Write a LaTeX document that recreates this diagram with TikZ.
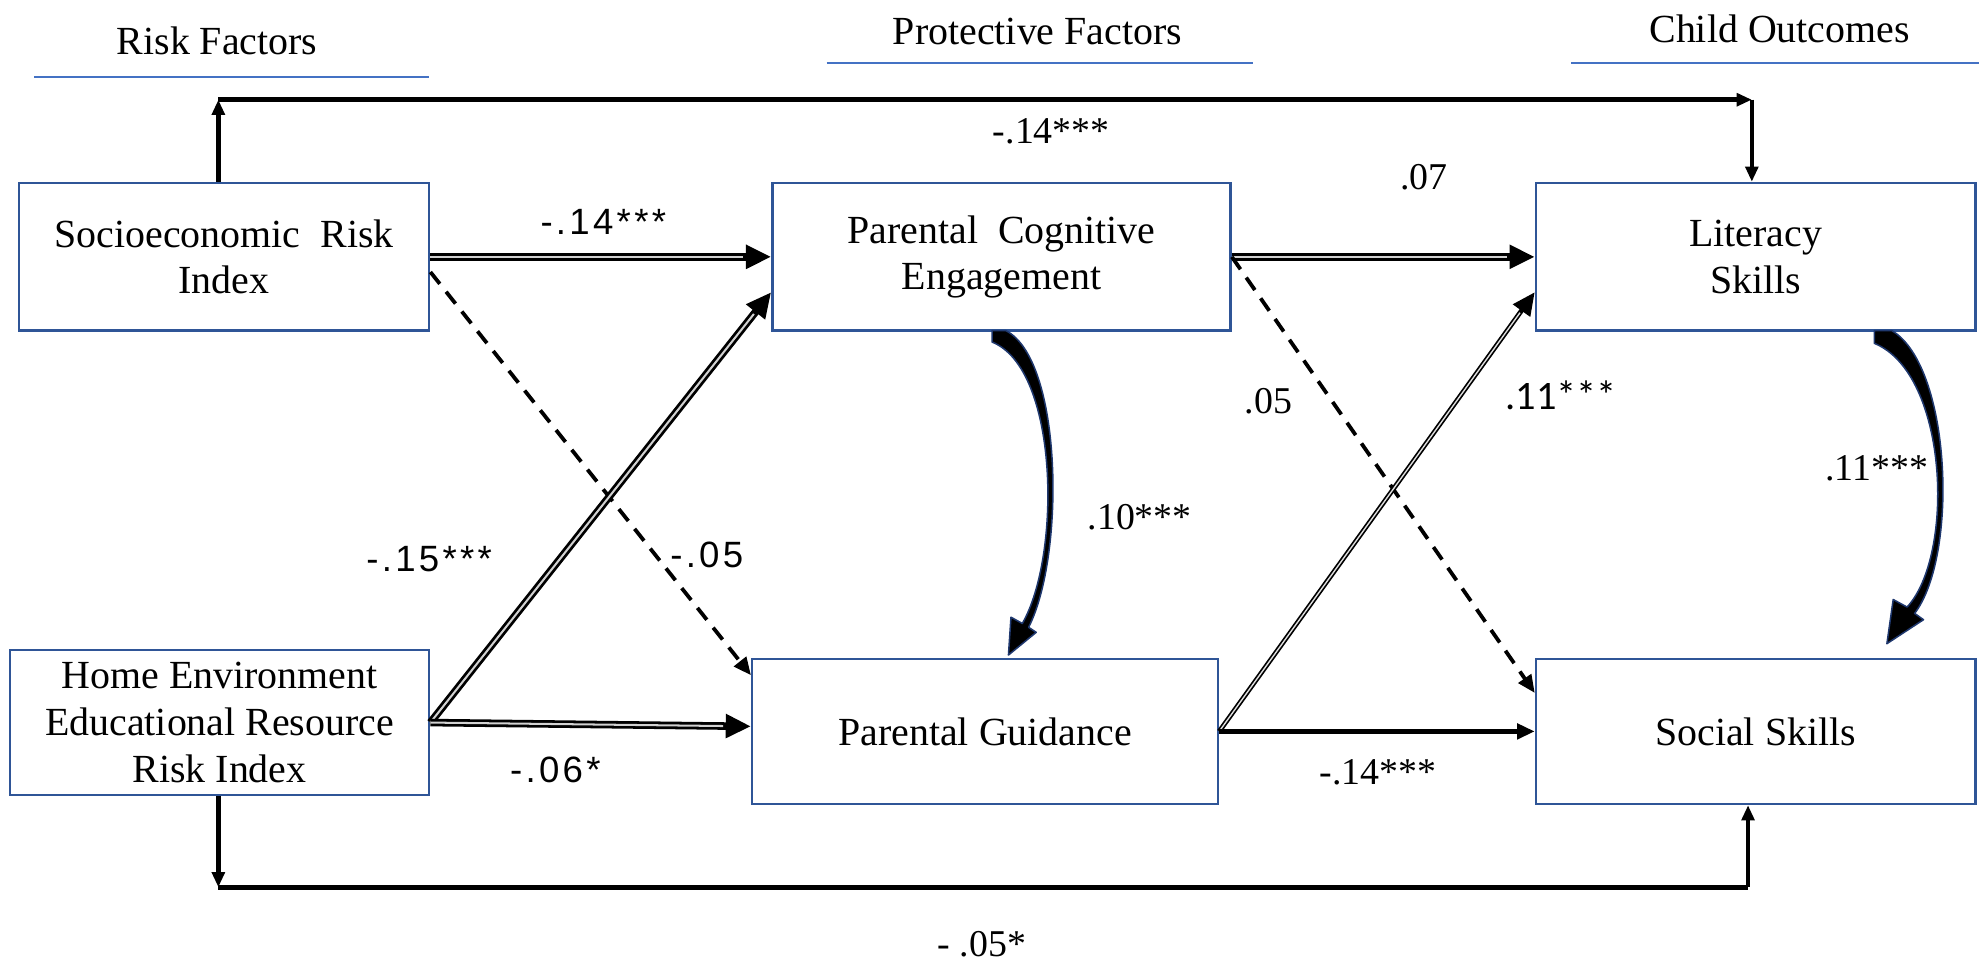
\documentclass[tikz,border=0pt]{standalone}
\usepackage{fontspec}
\setmainfont{Liberation Serif}
\newfontfamily\arialf[LetterSpace=9]{Liberation Sans}
\newfontfamily\calf{Carlito}
\usetikzlibrary{arrows.meta,calc}
\definecolor{boxblue}{RGB}{47,85,151}
\definecolor{ulblue}{RGB}{68,114,196}
\definecolor{navy}{RGB}{31,56,110}
\tikzset{
  box/.style={draw=boxblue, line width=1pt, inner sep=0pt, align=center,
    font=\fontsize{15.8}{18.5}\selectfont},
  hdr/.style={inner sep=0pt, font=\fontsize{15.8}{18.5}\selectfont},
  lbl/.style={inner sep=0pt, font=\fontsize{15}{18}\selectfont},
  albl/.style={inner sep=0pt, font=\arialf\fontsize{14.5}{17}\selectfont},
  clbl/.style={inner sep=0pt, font=\calf\fontsize{16}{19}\selectfont},
  dbl/.style={line width=3pt, -{Triangle[length=10pt,width=9pt]},
    postaction={draw=gray!35, line width=0.8pt, -, shorten >=11pt}},
  thindbl/.style={line width=1.9pt, -{Triangle[length=9pt,width=8pt]},
    postaction={draw=gray!25, line width=0.55pt, -, shorten >=10pt}},
  dsh/.style={line width=1.5pt, dash pattern=on 6pt off 4pt, -{Triangle[length=7pt,width=6pt]}},
  solidarr/.style={line width=2pt, -{Triangle[length=7pt,width=6pt]}},
  conn/.style={line width=1.8pt},
  connarr/.style={line width=1.8pt, -{Triangle[length=6pt,width=5pt]}},
  curv/.style={fill=black, draw=navy, line width=0.6pt, line join=round},
}
\begin{document}
\begin{tikzpicture}[x=0.5pt, y=-0.5pt]
\useasboundingbox (0,0) rectangle (1568,765);

% headers
\node[hdr] (hrisk) at (172,32) {Risk Factors};
\node[hdr] (hprot) at (822,25) {Protective Factors};
\node[hdr] (hchild) at (1410,23) {Child Outcomes};
\draw[ulblue, line width=0.6pt] (27,61) -- (340,61);
\draw[ulblue, line width=0.6pt] (655,50) -- (993,50);
\draw[ulblue, line width=0.6pt] (1245,50) -- (1568,50);

% boxes
\node[box, minimum width=162.5pt, minimum height=58.5pt] (soc) at (177.5,203.5) {Socioeconomic~~Risk\\Index};
\node[box, minimum width=181.5pt, minimum height=58.5pt] (pce) at (793.5,203.5) {Parental~~Cognitive\\Engagement};
\node[box, minimum width=174pt, minimum height=58.5pt] (lit) at (1391,203.5) {Literacy\\Skills};
\node[box, minimum width=166pt, minimum height=57.5pt] (home) at (174,572.5) {Home Environment\\Educational Resource\\Risk Index};
\node[box, minimum width=184.5pt, minimum height=57.5pt] (pg) at (780.5,579.5) {Parental Guidance};
\node[box, minimum width=174pt, minimum height=57.5pt] (social) at (1391,579.5) {Social Skills};

% top connector
\coordinate (tl) at (173,79);
\coordinate (tr) at (1388,79);
\draw[connarr] (tl |- soc.north) -- (tl);
\draw[connarr] (tl) -- (tr);
\draw[connarr] (tr) -- (tr |- lit.north);

% bottom connector
\coordinate (bl) at (173,703);
\coordinate (br) at (1385,703);
\draw[connarr] (bl |- home.south) -- (bl);
\draw[conn] (bl) -- (br);
\draw[connarr] (br) -- (br |- social.south);

% paths risk -> protective
\draw[dbl] (soc.east) -- (pce.west);
\draw[dsh] ($(soc.east)+(0,12)$) -- ($(pg.north west)+(0,14)$);
\draw[dbl] (home.east) -- ($(pce.west)+(0,28)$);
\draw[dbl] (home.east) -- ($(pg.west)+(0,-4)$);

% paths protective -> outcomes
\draw[dbl] (pce.east) -- (lit.west);
\draw[dsh] (pce.east) -- ($(social.north west)+(0,28)$);
\draw[thindbl] (pg.east) -- ($(lit.west)+(0,28)$);
\draw[solidarr] (pg.east) -- (social.west);

% curved arrows
\draw[curv] (786,262) -- (797,262) .. controls (842,285) and (844,440) .. (815,497)
  -- (821,501) -- (799,519) -- (801,489) -- (810,494)
  .. controls (841,440) and (839,292) .. (786,271) -- cycle;
\draw[curv] (1485,262) -- (1499,262) .. controls (1546,290) and (1552,440) .. (1517,486)
  -- (1524,491) -- (1495,510) -- (1500,475) -- (1511,481)
  .. controls (1549,440) and (1544,296) .. (1485,272) -- cycle;

% labels
\node[lbl] (l1) at (833,104) {-.14***};
\node[albl] (l2) at (478,176) {-.14***};
\node[albl] (l3) at (560,440) {-.05};
\node[albl] (l4) at (340,443) {-.15***};
\node[albl] (l5) at (440,610) {-.06*};
\node[lbl] (l6) at (1128,140) {.07};
\node[lbl] (l7) at (1005,318) {.05};
\node[clbl] (l8) at (1237,313) {.11***};
\node[lbl] (l9) at (903,410) {.10***};
\node[lbl] (l10) at (1487,371) {.11***};
\node[lbl] (l11) at (1092,612) {-.14***};
\node[lbl] (l12) at (778,748) {- .05*};
\end{tikzpicture}
\end{document}
